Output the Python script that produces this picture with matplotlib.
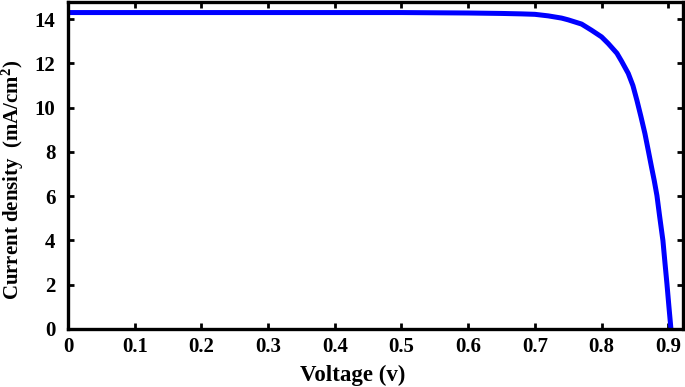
import matplotlib
matplotlib.use("Agg")
import matplotlib.pyplot as plt

# J-V curve
voltage = [0.0, 0.1, 0.2, 0.3, 0.4, 0.5, 0.55, 0.6, 0.65, 0.68, 0.7, 0.72, 0.74, 0.75,
           0.77, 0.785, 0.8, 0.81, 0.823, 0.83, 0.84, 0.847, 0.853, 0.859, 0.865,
           0.87, 0.875, 0.879, 0.883, 0.887, 0.892, 0.895, 0.898, 0.901, 0.904]
current = [14.3, 14.3, 14.3, 14.3, 14.3, 14.3, 14.29, 14.28, 14.26, 14.24, 14.22, 14.15,
           14.05, 13.97, 13.78, 13.5, 13.2, 12.9, 12.46, 12.1, 11.55, 11.0, 10.33, 9.6,
           8.83, 8.07, 7.3, 6.7, 6.03, 5.1, 3.99, 3.0, 2.04, 1.0, 0.0]

x_ticks = [0, 0.1, 0.2, 0.3, 0.4, 0.5, 0.6, 0.7, 0.8, 0.9]
x_labels = ["0", "0.1", "0.2", "0.3", "0.4", "0.5", "0.6", "0.7", "0.8", "0.9"]
y_ticks = [0, 2, 4, 6, 8, 10, 12, 14]

plt.rcParams["font.family"] = "Liberation Serif"
plt.rcParams["font.weight"] = "bold"
plt.rcParams["mathtext.fontset"] = "custom"
plt.rcParams["mathtext.rm"] = "Liberation Serif:bold"
plt.rcParams["mathtext.it"] = "Liberation Serif:bold"
plt.rcParams["mathtext.bf"] = "Liberation Serif:bold"

fig = plt.figure(figsize=(6.85, 3.87), dpi=100)
ax = fig.add_axes([0.0993, 0.150, 0.8977, 0.845])

ax.plot(voltage, current, color="#0000ff", linewidth=3.6, solid_joinstyle="round")

ax.set_xlim(0, 0.922)
ax.set_ylim(0, 14.78)
ax.set_xticks(x_ticks)
ax.set_xticklabels(x_labels)
ax.set_yticks(y_ticks)

for s in ax.spines.values():
    s.set_linewidth(2.4)
ax.tick_params(direction="in", top=True, right=True, length=4, width=2,
               labelsize=15)
ax.tick_params(axis="y", pad=9)
ax.tick_params(axis="x", pad=6)

ax.set_xlabel("Voltage (v)", fontsize=16.5, fontweight="bold")
ax.set_ylabel(r"Current density  (mA/cm$^2$)", fontsize=15, fontweight="bold")
ax.xaxis.set_label_coords(0.463, -0.11)
ax.yaxis.set_label_coords(-0.068, 0.455)

fig.savefig("out.png", dpi=100)
